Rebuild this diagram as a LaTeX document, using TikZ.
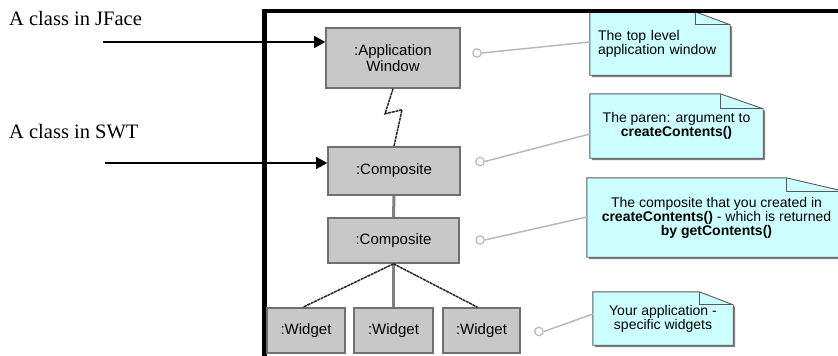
\documentclass[tikz,border=0pt]{standalone}
\usepackage{fontspec}
\setmainfont{Liberation Serif}
\newfontfamily\arialfont{Liberation Sans}
\usetikzlibrary{arrows.meta,backgrounds,calc}
\definecolor{boxgray}{HTML}{C8C8C8}
\definecolor{edgegray}{HTML}{707070}
\definecolor{notecyan}{HTML}{CCFFFF}
\definecolor{linkgray}{HTML}{B8B8B8}
\definecolor{shadowgray}{HTML}{808080}

% UML note outline with a folded top-right corner, drawn behind the note's text node
\newcommand\notefold[3]{%
  \begin{scope}[on background layer]
    \fill[shadowgray] ($(#1.north west)+(2,2)$) -- ($(#1.north east)+(-#2+2,2)$)
      -- ($(#1.north east)+(2,#3+2)$) -- ($(#1.south east)+(2,2)$)
      -- ($(#1.south west)+(2,2)$) -- cycle;
    \draw[noteedge, fill=notecyan] (#1.north west) -- ($(#1.north east)+(-#2,0)$)
      -- ($(#1.north east)+(0,#3)$) -- (#1.south east) -- (#1.south west) -- cycle;
    \draw[noteedge] ($(#1.north east)+(-#2,0)$) -- ($(#1.north east)+(-#2,#3)$)
      -- ($(#1.north east)+(0,#3)$);
  \end{scope}}

\begin{document}
\begin{tikzpicture}[x=1pt,y=-1pt,
  obj/.style={draw=edgegray, line width=1.6pt, fill=boxgray, align=center,
    inner sep=0pt, font=\arialfont\fontsize{15}{15.5}\selectfont},
  notebox/.style={inner sep=0pt, align=center,
    font=\arialfont\fontsize{14}{12.5}\selectfont},
  noteedge/.style={draw=black!65, line width=0.9pt},
  side/.style={font=\fontsize{20.5}{22}\selectfont, inner sep=0pt},
  pointer/.style={line width=1.2pt, -{Triangle[length=11pt,width=12pt]}},
  frameline/.style={line width=4.5pt, line cap=rect},
  strong/.style={draw=shadowgray, line width=3pt},
  zig/.style={draw=black!85, line width=1.5pt, dash pattern=on 3pt off 0.7pt},
  anchorring/.style={circle, draw=linkgray, line width=1.2pt, fill=white,
    minimum size=8.5pt, inner sep=0pt},
  link/.style={draw=linkgray, line width=1.5pt}]

\useasboundingbox (0,0) rectangle (838,356);
\clip (0,0) rectangle (838,356);

% diagram frame
\draw[frameline] (264.5,370) -- (264.5,11) -- (850,11);

% object boxes
\node[obj, minimum width=134, minimum height=60] (aw) at (393,58) {:Application\\Window};
\node[obj, minimum width=132, minimum height=48] (c1) at (394,171) {:Composite};
\node[obj, minimum width=131, minimum height=45] (c2) at (393.5,240.5) {:Composite};
\node[obj, minimum width=78, minimum height=45] (w1) at (306,330.5) {:Widget};
\node[obj, minimum width=79, minimum height=45] (w2) at (393.5,330.5) {:Widget};
\node[obj, minimum width=77, minimum height=45] (w3) at (481.5,330.5) {:Widget};

% links between objects
\draw[zig] (aw.south) -- ++(-8,25) -- ++(17,-4) -- (c1.north);
\draw[strong] (c1.south) -- (c2.north);
\draw[strong] (c2.south) -- (w2.north);
\draw[zig] (c2.south) -- ([xshift=-3pt]w1.north);
\draw[zig] (c2.south) -- ([xshift=-4pt]w3.north);

% notes
\node[notebox, minimum width=140, minimum height=63, text width=124, align=left]
  (n1) at (660,43.5) {The top level\\application window};
\notefold{n1}{35}{13}
\node[notebox, minimum width=173, minimum height=64] (n2) at (676.5,126)
  {The paren: argument to\\\textbf{createContents()}};
\notefold{n2}{43}{15}
\node[notebox, minimum width=259, minimum height=79] (n3) at (716.5,217.5)
  {The composite that you created in\\\textbf{createContents()} - which is returned\\\textbf{by getContents()}};
\notefold{n3}{60}{14}
\node[notebox, minimum width=140, minimum height=53] (n4) at (663,318.5)
  {Your application -\\specific widgets};
\notefold{n4}{34}{13}

% note attachments
\node[anchorring] (r1) at (477,53) {};
\node[anchorring] (r2) at (480,161.5) {};
\node[anchorring] (r3) at (480,240) {};
\node[anchorring] (r4) at (539,331.5) {};
\draw[link] (r1.east) -- ([yshift=1.5pt]n1.west);
\draw[link] (r2.east) -- ([yshift=-8pt]n2.west);
\draw[link] (r3.east) -- ([yshift=0.5pt]n3.west);
\draw[link] (r4.east) -- ([yshift=4.5pt]n4.west);

% side labels with their pointers
\node[side, anchor=base west] (lj) at (9,25) {A class in JFace};
\node[side, anchor=base west] (ls) at (9,138) {A class in SWT};
\coordinate (pj) at (103,42);
\coordinate (ps) at (105,163);
\draw[pointer] (pj) -- (aw.west |- pj);
\draw[pointer] (ps) -- (c1.west |- ps);
\end{tikzpicture}
\end{document}
